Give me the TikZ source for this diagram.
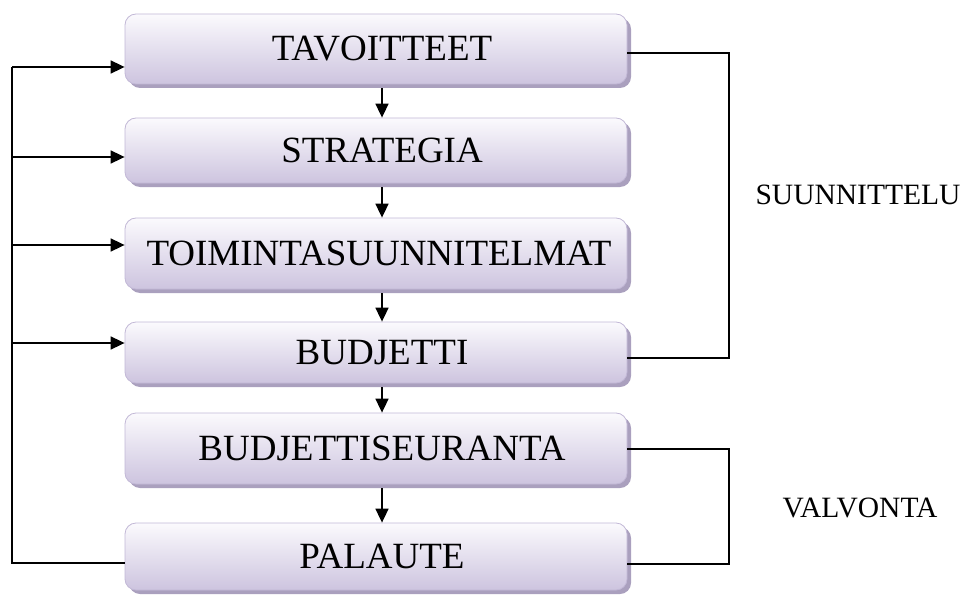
\documentclass[tikz,border=0pt]{standalone}
\usepackage{fontspec}
\setmainfont{Liberation Serif}
\usetikzlibrary{shadows,arrows.meta}
\definecolor{boxtop}{HTML}{FBFAFD}
\definecolor{boxbot}{HTML}{CDC4DF}
\definecolor{boxline}{HTML}{C2B8D6}
\definecolor{boxshadow}{HTML}{AAA0BE}
\tikzset{
  stagebox/.style={rounded corners=11pt, draw=boxline, line width=0.8pt,
    top color=boxtop, bottom color=boxbot, minimum width=502pt,
    font=\fontsize{37}{41}\selectfont, inner sep=0pt,
    drop shadow={shadow xshift=4pt, shadow yshift=-4pt, fill=boxshadow, opacity=1}},
  arr/.style={line width=1.7pt, -{Triangle[length=14pt,width=13pt]}},
  conn/.style={line width=1.7pt},
  sidelabel/.style={font=\fontsize{29.5}{33}\selectfont, inner sep=0pt}
}
\begin{document}
\begin{tikzpicture}[x=1pt,y=-1pt]
\useasboundingbox (0,0) rectangle (968,596);
\node[stagebox, minimum height=70pt] (b1) at (376,49) {\hspace*{12pt}TAVOITTEET};
\node[stagebox, minimum height=65pt] (b2) at (376,150.5) {\hspace*{12pt}STRATEGIA};
\node[stagebox, minimum height=71pt] (b3) at (376,253.5) {\hspace*{6pt}TOIMINTASUUNNITELMAT};
\node[stagebox, minimum height=61pt] (b4) at (376,352.5) {\hspace*{12pt}BUDJETTI};
\node[stagebox, minimum height=71pt] (b5) at (376,448.5) {\hspace*{12pt}BUDJETTISEURANTA};
\node[stagebox, minimum height=67pt] (b6) at (376,556.5) {\hspace*{12pt}PALAUTE};
% down arrows
\draw[arr] ([xshift=6pt,yshift=-4pt]b1.south) -- ([xshift=6pt]b2.north);
\draw[arr] ([xshift=6pt,yshift=-4pt]b2.south) -- ([xshift=6pt]b3.north);
\draw[arr] ([xshift=6pt,yshift=-4pt]b3.south) -- ([xshift=6pt]b4.north);
\draw[arr] ([xshift=6pt,yshift=-4pt]b4.south) -- ([xshift=6pt]b5.north);
\draw[arr] ([xshift=6pt,yshift=-4pt]b5.south) -- ([xshift=6pt]b6.north);
% feedback loop on the left
\coordinate (L1) at (12,67);
\coordinate (L2) at (12,157);
\coordinate (L3) at (12,245);
\coordinate (L4) at (12,343);
\coordinate (L6) at (12,563);
\draw[conn] (b6.west |- L6) -- (L6) -- (L1);
\draw[arr] (L1) -- (L1 -| b1.west);
\draw[arr] (L2) -- (L2 -| b2.west);
\draw[arr] (L3) -- (L3 -| b3.west);
\draw[arr] (L4) -- (L4 -| b4.west);
% brackets on the right
\coordinate (R1) at (729,53);
\coordinate (R4) at (729,358);
\coordinate (R5) at (729,449);
\coordinate (R6) at (729,564);
\draw[conn] (b1.east |- R1) -- (R1) -- (R4) -- (b4.east |- R4);
\draw[conn] (b5.east |- R5) -- (R5) -- (R6) -- (b6.east |- R6);
\node[sidelabel] (suun) at (858,195) {SUUNNITTELU};
\node[sidelabel] (valv) at (860,508) {VALVONTA};
\end{tikzpicture}
\end{document}
